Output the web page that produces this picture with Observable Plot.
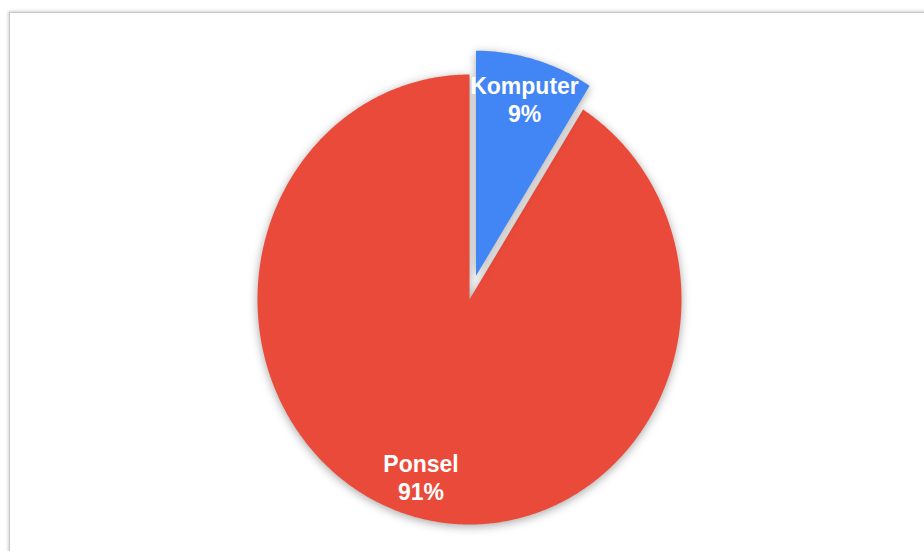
<!DOCTYPE html>
<html>
<head>
<meta charset="utf-8">
<script src="https://cdn.jsdelivr.net/npm/d3@7"></script>
<script src="https://cdn.jsdelivr.net/npm/@observablehq/plot@0.6"></script>
<style>
  html, body { margin: 0; padding: 0; background: #fff; overflow: hidden; }
  #wrap { position: relative; width: 924px; height: 551px; overflow: hidden; }
  #frame { position: absolute; left: 9px; top: 12px; width: 1000px; height: 700px;
           border: 1px solid #c8c8c8; box-shadow: -1px -1px 3px rgba(0,0,0,0.18); background: #fff; }
  #chart { position: absolute; left: 0; top: 0; }
</style>
</head>
<body>
<div id="wrap"><div id="frame"></div><div id="chart"></div></div>
<script>
// Data
const categories = ["Komputer", "Ponsel"];
const values = [9, 91];
const percentLabels = ["9%", "91%"];
const colors = ["#4285F4", "#EA4A3A"];
const explode = [0.11, 0];

const W = 924, H = 551;
const cx = 469, cy = 299, rx = 212, ry = 225;

const total = d3.sum(values);
const pie = d3.pie().sort(null).value(d => d)(values);

// Build slice outlines in data space (unit radius, y up)
const slices = pie.map((p, i) => {
  const mid = (p.startAngle + p.endAngle) / 2;
  const ox = explode[i] * Math.sin(mid);
  const oy = explode[i] * Math.cos(mid);
  const pts = [{x: ox, y: oy}];
  const n = Math.max(2, Math.ceil((p.endAngle - p.startAngle) / (Math.PI / 360)));
  for (let k = 0; k <= n; k++) {
    const a = p.startAngle + (p.endAngle - p.startAngle) * k / n;
    pts.push({x: ox + Math.sin(a), y: oy + Math.cos(a)});
  }
  const lr = 0.82;
  return {
    pts,
    label: {x: ox + lr * Math.sin(mid), y: oy + lr * Math.cos(mid), text: categories[i] + "\n" + percentLabels[i]},
    color: colors[i]
  };
});

const labels = slices.map(s => s.label);

const chart = Plot.plot({
  width: W,
  height: H,
  margin: 0,
  style: {background: "transparent", overflow: "visible"},
  x: {domain: [-cx / rx, (W - cx) / rx], axis: null},
  y: {domain: [-(H - cy) / ry, cy / ry], axis: null},
  marks: [
    ...slices.slice().reverse().map(s =>
      Plot.line(s.pts, {x: "x", y: "y", fill: s.color, stroke: "none", curve: "linear-closed"})
    ),
    Plot.text(labels, {
      x: "x", y: "y", text: "text",
      fill: "white", fontSize: 23, fontWeight: "bold",
      fontFamily: "Liberation Sans, Arial, sans-serif",
      lineHeight: 1.22
    })
  ]
});

chart.querySelectorAll('g[aria-label="line"] path').forEach(p => {
  p.style.filter = "drop-shadow(0px 2px 5px rgba(0,0,0,0.35))";
});

document.getElementById("chart").appendChild(chart);
</script>
</body>
</html>
